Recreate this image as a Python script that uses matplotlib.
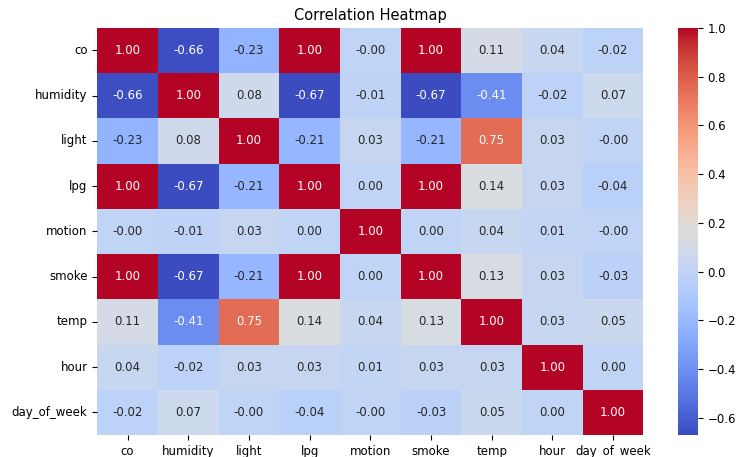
import numpy as np
import pandas as pd
import matplotlib
matplotlib.use("Agg")
import matplotlib.pyplot as plt
import seaborn as sns

labels = ["co", "humidity", "light", "lpg", "motion", "smoke", "temp", "hour", "day_of_week"]

# -0.001 etc. keep the "-0.00" cells as in the picture
corr_values = [
    [1.00, -0.66, -0.23, 1.00, -0.001, 1.00, 0.11, 0.04, -0.02],
    [-0.66, 1.00, 0.08, -0.67, -0.01, -0.67, -0.41, -0.02, 0.07],
    [-0.23, 0.08, 1.00, -0.21, 0.03, -0.21, 0.75, 0.03, -0.001],
    [1.00, -0.67, -0.21, 1.00, 0.001, 1.00, 0.14, 0.03, -0.04],
    [-0.001, -0.01, 0.03, 0.001, 1.00, 0.001, 0.04, 0.01, -0.001],
    [1.00, -0.67, -0.21, 1.00, 0.001, 1.00, 0.13, 0.03, -0.03],
    [0.11, -0.41, 0.75, 0.14, 0.04, 0.13, 1.00, 0.03, 0.05],
    [0.04, -0.02, 0.03, 0.03, 0.01, 0.03, 0.03, 1.00, 0.001],
    [-0.02, 0.07, -0.001, -0.04, -0.001, -0.03, 0.05, 0.001, 1.00],
]

corr = pd.DataFrame(np.array(corr_values), index=labels, columns=labels)

fig = plt.figure(figsize=(7.37, 4.57), dpi=100)
ax = fig.add_axes([0.132, 0.048, 0.741, 0.891])
cax = fig.add_axes([0.920, 0.048, 0.027, 0.891])

sns.heatmap(corr, annot=True, fmt=".2f", cmap="coolwarm", ax=ax, cbar_ax=cax,
            annot_kws={"size": 8.5})
ax.set_title("Correlation Heatmap", fontsize=10.5)
ax.tick_params(labelsize=8.5)
plt.setp(ax.get_xticklabels(), rotation=0)
plt.setp(ax.get_yticklabels(), rotation=0)
cax.tick_params(labelsize=8.5)

fig.savefig("out.png", dpi=100)
